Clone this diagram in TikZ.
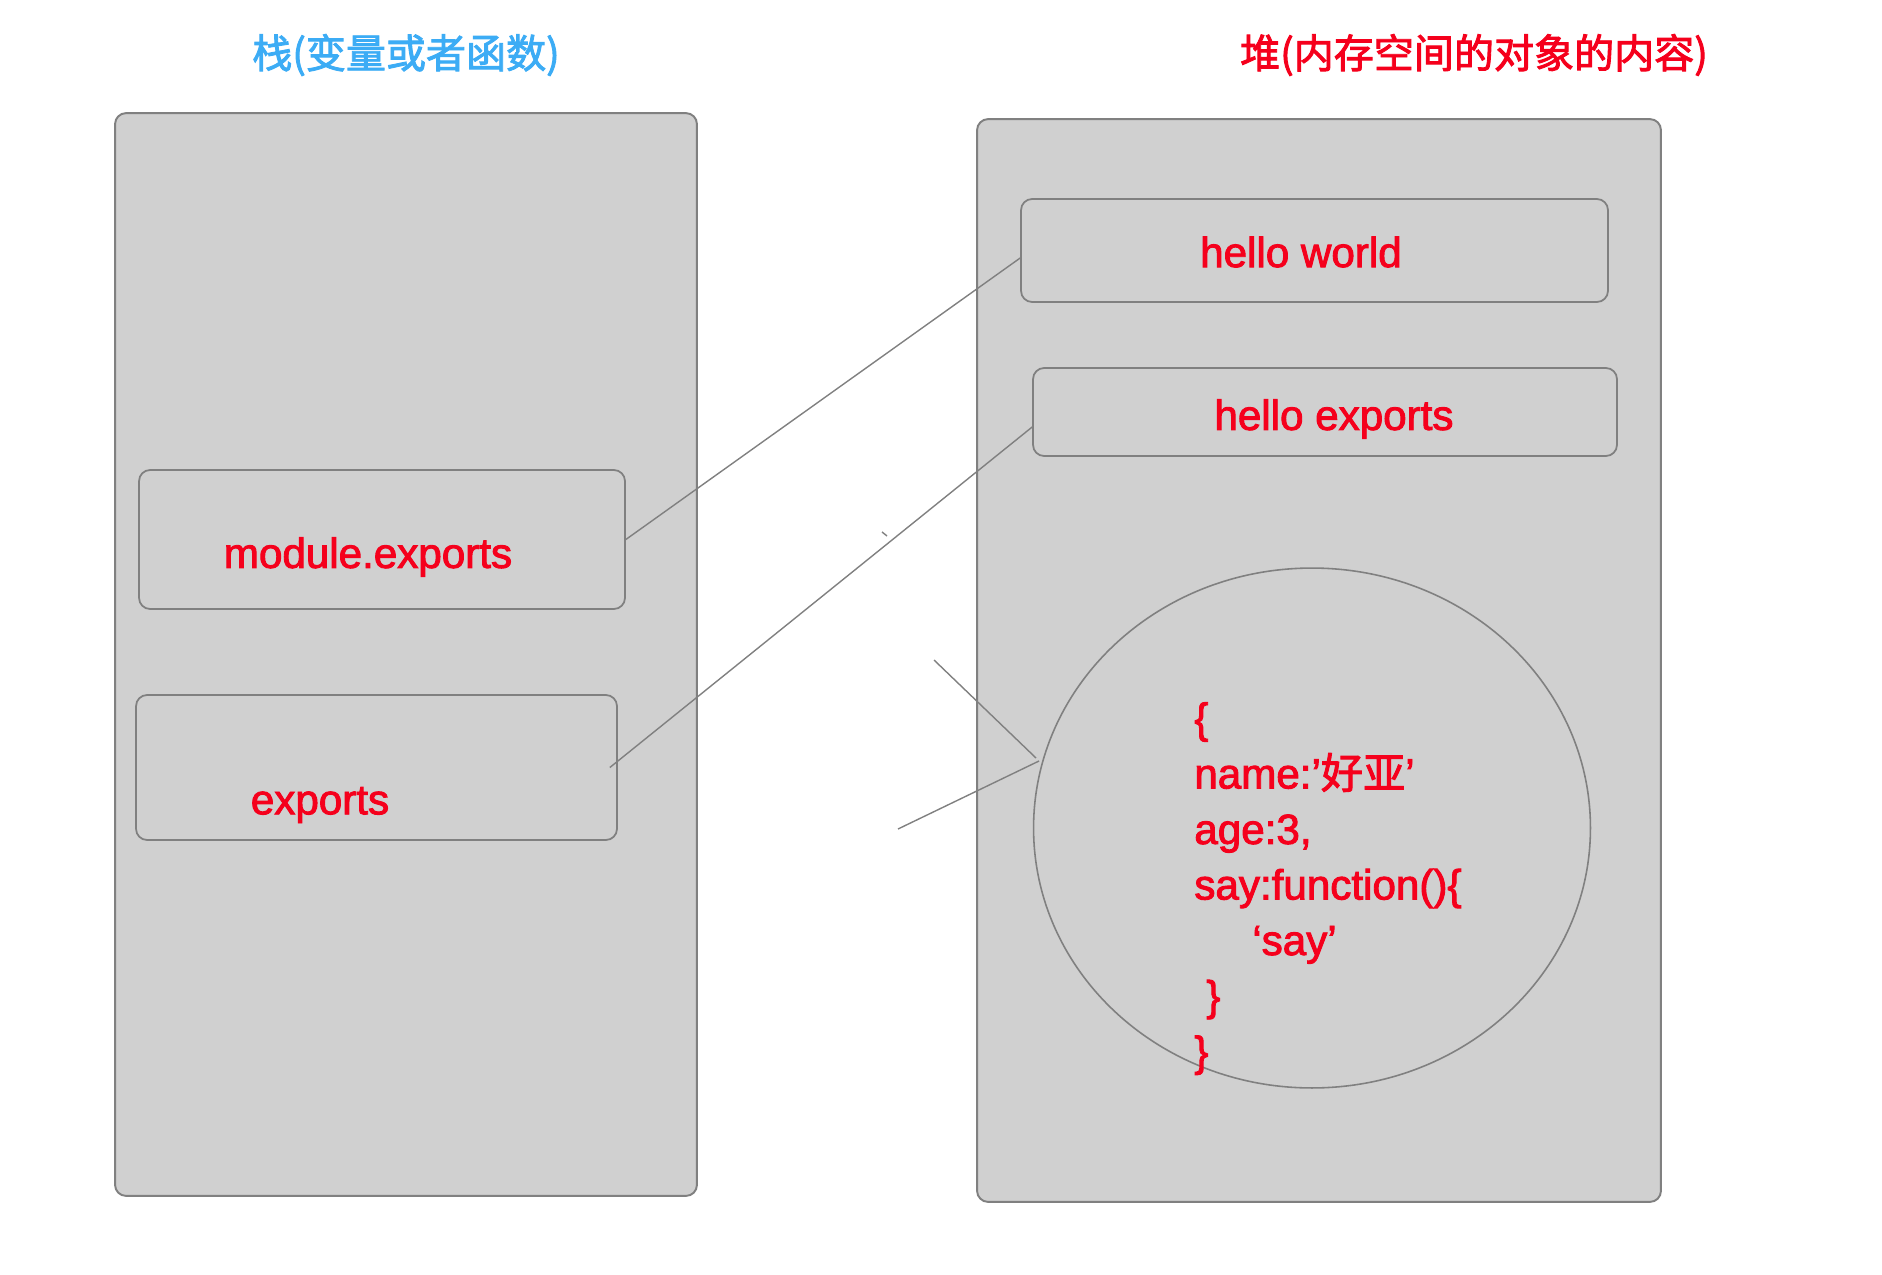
\documentclass[tikz,border=0pt]{standalone}
\usepackage{fontspec}
\setmainfont{Liberation Sans}[FakeBold=2.2]
\newfontfamily\cjk{Noto Sans CJK SC}[FakeBold=2.2]
\usepackage{tikz}
\usetikzlibrary{shapes.geometric, calc}
\definecolor{memgray}{RGB}{208,208,208}
\definecolor{edgegray}{RGB}{128,128,128}
\definecolor{txtred}{RGB}{245,0,28}
\definecolor{txtblue}{RGB}{60,172,245}
\tikzset{
  region/.style={rectangle, rounded corners=0.22cm, draw=edgegray, line width=1.1pt, fill=memgray, inner sep=0pt},
  cell/.style={rectangle, rounded corners=0.22cm, draw=edgegray, line width=1pt, fill=memgray, inner sep=0pt},
  objshape/.style={ellipse, draw=edgegray, line width=0.9pt, fill=memgray, inner sep=0pt},
  vartext/.style={text=txtred, font=\fontsize{24}{29}\selectfont, inner sep=0pt},
  heading/.style={font=\cjk\fontsize{22.8}{27}\selectfont, inner sep=0pt},
  link/.style={draw=edgegray, line width=0.8pt}
}
\begin{document}
\begin{tikzpicture}[x=0.02cm, y=-0.02cm]
\useasboundingbox (0,0) rectangle (1882,1274);
\node[heading, text=txtblue] (stacktitle) at (406,55) {栈(变量或者函数)};
\node[heading, text=txtred] (heaptitle) at (1474,55) {堆(内存空间的对象的内容)};

\node[region, minimum width=11.64cm, minimum height=21.66cm] (stack) at (406,654.5) {};
\node[region, minimum width=13.68cm, minimum height=21.66cm] (heap) at (1319,660.5) {};

\node[cell, minimum width=11.74cm, minimum height=2.06cm] (hw) at (1314.5,250.5) {};
\node[cell, minimum width=11.68cm, minimum height=1.76cm] (he) at (1325,412) {};
\node[cell, minimum width=9.72cm, minimum height=2.78cm] (mexpbox) at (382,539.5) {};
\node[cell, minimum width=9.62cm, minimum height=2.9cm] (expbox) at (376.5,767.5) {};
\node[objshape, minimum width=11.14cm, minimum height=10.4cm] (obj) at (1312,828) {};

\node[vartext] (hwtext) at (1301,252) {hello world};
\node[vartext] (hetext) at (1334,419) {hello exports};
\node[vartext] (mexptext) at (368,557) {module.exports};
\node[vartext] (exptext) at (320,805) {exports};
\node[vartext, anchor=north west, align=left, font=\fontsize{24}{31.6}\selectfont] (objtext) at (1194,702)
  {\{\\name:’{\cjk 好亚}’\\age:3,\\say:function()\{\\\hspace*{1.16cm}‘say’\\\hspace*{0.24cm}\}\\\}};

\draw[link] (mexpbox.east) -- ([yshift=-0.15cm]hw.west);
\draw[link] ([xshift=-0.16cm]expbox.east) -- ([yshift=-0.3cm]he.west);
\draw[link] (882,532) -- (887,536);

\coordinate (upperend) at (934,660);
\coordinate (uppertip) at (1036,758);
\coordinate (lowerend) at (898,829);
\coordinate (lowertip) at (1039,761);
\draw[link] (upperend) -- (uppertip);
\draw[link] (lowerend) -- (lowertip);
\end{tikzpicture}
\end{document}
